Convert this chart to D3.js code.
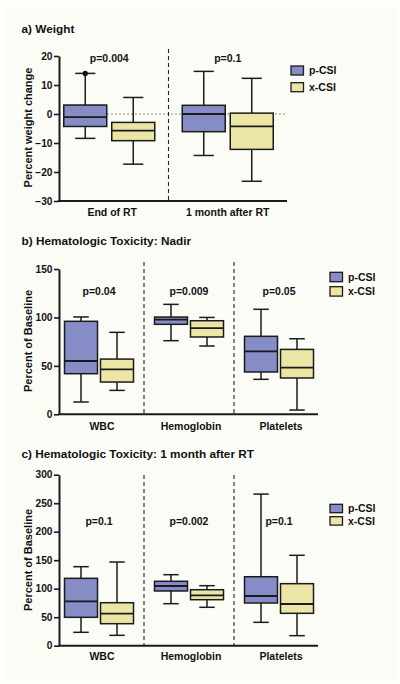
<!DOCTYPE html>
<html>
<head>
<meta charset="utf-8">
<script src="https://cdn.jsdelivr.net/npm/d3@7"></script>
<style>
  html, body { margin: 0; padding: 0; background: #ffffff; }
  svg { display: block; }
  text { font-family: "Liberation Sans", Arial, sans-serif; font-weight: bold; fill: #111; }
</style>
</head>
<body>
<svg id="chart" width="400" height="684"></svg>
<script>
// ---------------- DATA ----------------
const seriesNames = ["p-CSI", "x-CSI"];
const seriesColors = ["#868cc5", "#ebe6a5"];

// each box: [whisker min, Q1, median, Q3, whisker max]
const weightCategories = ["End of RT", "1 month after RT"];
const weightPCSI = [[-8.4, -4.3, -1.1, 3.1, 14.0], [-14.3, -6.1, 0.0, 3.0, 14.7]];
const weightXCSI = [[-17.3, -9.2, -5.7, -2.9, 5.7], [-23.2, -12.2, -4.3, 0.3, 12.3]];
const weightPOutliers = [[14.0], []];
const weightXOutliers = [[], []];
const weightPValues = ["p=0.004", "p=0.1"];
const weightTicks = [-30, -20, -10, 0, 10, 20];

const nadirCategories = ["WBC", "Hemoglobin", "Platelets"];
const nadirPCSI = [[12.7, 41.9, 55.0, 96.0, 100.5], [76.0, 92.9, 97.7, 100.4, 113.5], [36.1, 43.7, 65.0, 80.5, 108.4]];
const nadirXCSI = [[24.7, 33.3, 46.4, 57.0, 84.6], [70.5, 79.8, 89.0, 96.6, 100.0], [4.4, 37.5, 48.1, 67.0, 78.0]];
const nadirPValues = ["p=0.04", "p=0.009", "p=0.05"];
const nadirTicks = [0, 50, 100, 150];

const monthCategories = ["WBC", "Hemoglobin", "Platelets"];
const monthPCSI = [[23.5, 49.8, 77.9, 118.2, 138.6], [73.7, 96.0, 104.7, 113.0, 124.6], [41.0, 74.9, 87.2, 121.0, 266.0]];
const monthXCSI = [[18.2, 38.6, 56.1, 75.4, 146.8], [67.4, 80.7, 88.4, 98.2, 105.3], [17.6, 56.8, 73.2, 108.8, 158.6]];
const monthPValues = ["p=0.1", "p=0.002", "p=0.1"];
const monthTicks = [0, 50, 100, 150, 200, 250, 300];

// ---------------- DRAW ----------------
const svg = d3.select("#chart");
svg.append("rect").attr("x", 5).attr("y", 7).attr("width", 392).attr("height", 674).attr("fill", "#fcfcf7");

function drawPanel(cfg) {
  const g = svg.append("g");
  const y = d3.scaleLinear().domain(cfg.domain).range(cfg.yRange);
  const x = d3.scaleBand().domain(cfg.categories).range(cfg.groupRange);
  const s = d3.scaleOrdinal().domain(seriesNames).range([-cfg.offset, cfg.offset]);

  // title
  g.append("text").attr("x", 21.5).attr("y", cfg.titleY).attr("font-size", 11.8).text(cfg.title);

  // zero reference line
  if (cfg.zeroLine) {
    g.append("line").attr("x1", cfg.axisX0).attr("x2", cfg.axisX1)
      .attr("y1", y(0)).attr("y2", y(0))
      .attr("stroke", "#8a8a8a").attr("stroke-width", 1).attr("stroke-dasharray", "2,2");
  }

  // dividers
  cfg.categories.slice(1).forEach(c => {
    g.append("line").attr("x1", x(c)).attr("x2", x(c))
      .attr("y1", cfg.dividerTop).attr("y2", cfg.yRange[0])
      .attr("stroke", "#222").attr("stroke-width", 1.1).attr("stroke-dasharray", "4,3");
  });

  // boxes
  const seriesData = [cfg.pData, cfg.xData];
  const outliers = [cfg.pOut || [], cfg.xOut || []];
  seriesData.forEach((data, si) => {
    data.forEach((d, ci) => {
      const cx = x(cfg.categories[ci]) + x.bandwidth() / 2 + s(seriesNames[si]);
      const bw = cfg.boxW, cap = cfg.boxW * 0.47;
      const sg = g.append("g").attr("stroke", "#1b1b1b").attr("stroke-width", 1.5);
      sg.append("line").attr("x1", cx).attr("x2", cx).attr("y1", y(d[0])).attr("y2", y(d[1]));
      sg.append("line").attr("x1", cx).attr("x2", cx).attr("y1", y(d[3])).attr("y2", y(d[4]));
      sg.append("line").attr("x1", cx - cap / 2).attr("x2", cx + cap / 2).attr("y1", y(d[0])).attr("y2", y(d[0]));
      sg.append("line").attr("x1", cx - cap / 2).attr("x2", cx + cap / 2).attr("y1", y(d[4])).attr("y2", y(d[4]));
      sg.append("rect").attr("x", cx - bw / 2).attr("y", y(d[3])).attr("width", bw)
        .attr("height", y(d[1]) - y(d[3])).attr("fill", seriesColors[si]);
      sg.append("line").attr("x1", cx - bw / 2).attr("x2", cx + bw / 2).attr("y1", y(d[2])).attr("y2", y(d[2]))
        .attr("stroke-width", 1.8);
      (outliers[si][ci] || []).forEach(v => {
        g.append("circle").attr("cx", cx).attr("cy", y(v)).attr("r", 2.6).attr("fill", "#111");
      });
    });
  });

  // p-values
  cfg.categories.forEach((c, i) => {
    g.append("text").attr("x", x(c) + x.bandwidth() / 2).attr("y", cfg.pvalY)
      .attr("text-anchor", "middle").attr("font-size", 10.5).text(cfg.pValues[i]);
  });

  // y axis
  const axis = d3.axisLeft(y).tickValues(cfg.ticks).tickSize(5).tickPadding(1.5).tickSizeOuter(0);
  const ag = g.append("g").attr("transform", `translate(${cfg.axisX0},0)`).call(axis);
  ag.select(".domain").attr("stroke", "#1b1b1b").attr("stroke-width", 2);
  ag.selectAll(".tick line").attr("stroke", "#1b1b1b").attr("stroke-width", 1.6);
  ag.selectAll(".tick text").attr("font-size", 10.2).attr("font-family", "Liberation Sans, Arial, sans-serif")
    .attr("font-weight", "bold").attr("fill", "#111");

  // x axis line
  g.append("line").attr("x1", cfg.axisX0 - 1).attr("x2", cfg.axisX1)
    .attr("y1", cfg.yRange[0]).attr("y2", cfg.yRange[0]).attr("stroke", "#1b1b1b").attr("stroke-width", 2);

  // category labels
  cfg.categories.forEach((c, i) => {
    g.append("text").attr("x", x(c) + x.bandwidth() / 2 + (cfg.catShift ? cfg.catShift[i] : 0)).attr("y", cfg.catY)
      .attr("text-anchor", "middle").attr("font-size", 10.5).text(c);
  });

  // y title
  g.append("text").attr("transform", `translate(${cfg.yTitleX},${cfg.yTitleY}) rotate(-90)`)
    .attr("text-anchor", "middle").attr("dy", "0.35em").attr("font-size", 11).text(cfg.yTitle);

  // legend
  seriesNames.forEach((n, i) => {
    const ly = cfg.legendY + i * cfg.legendGap;
    g.append("rect").attr("x", cfg.legendX).attr("y", ly).attr("width", 12.5).attr("height", cfg.legendH)
      .attr("fill", seriesColors[i]).attr("stroke", "#1b1b1b").attr("stroke-width", 1.3);
    g.append("text").attr("x", cfg.legendX + 18).attr("y", ly + cfg.legendH / 2).attr("dy", "0.36em")
      .attr("font-size", 10.5).text(n);
  });
}

drawPanel({
  title: "a) Weight", titleY: 33.3,
  categories: weightCategories, pData: weightPCSI, xData: weightXCSI,
  pOut: weightPOutliers, xOut: weightXOutliers, pValues: weightPValues, ticks: weightTicks,
  domain: [-30, 20], yRange: [201, 56], axisX0: 59, axisX1: 287,
  groupRange: [50, 287], offset: 24, boxW: 43, dividerTop: 49, zeroLine: true,
  pvalY: 61.5, catY: 216, catShift: [3, 0],
  yTitle: "Percent weight change", yTitleX: 28.3, yTitleY: 127.5,
  legendX: 291, legendY: 66, legendGap: 16.7, legendH: 9
});

drawPanel({
  title: "b) Hematologic Toxicity: Nadir", titleY: 244.5,
  categories: nadirCategories, pData: nadirPCSI, xData: nadirXCSI,
  pValues: nadirPValues, ticks: nadirTicks,
  domain: [0, 150], yRange: [414.3, 269], axisX0: 59, axisX1: 318,
  groupRange: [54, 324], offset: 18, boxW: 33, dividerTop: 262,
  pvalY: 295, catY: 430, catShift: [3, 2, 2],
  yTitle: "Percent of Baseline", yTitleX: 28.3, yTitleY: 341,
  legendX: 330, legendY: 272.3, legendGap: 14.4, legendH: 9.4
});

drawPanel({
  title: "c) Hematologic Toxicity: 1 month after RT", titleY: 457.5,
  categories: monthCategories, pData: monthPCSI, xData: monthXCSI,
  pValues: monthPValues, ticks: monthTicks,
  domain: [0, 300], yRange: [645.7, 474.7], axisX0: 59, axisX1: 318,
  groupRange: [54, 324], offset: 18, boxW: 33, dividerTop: 475,
  pvalY: 525, catY: 660, catShift: [3, 2, 2],
  yTitle: "Percent of Baseline", yTitleX: 28.3, yTitleY: 560,
  legendX: 330, legendY: 504.3, legendGap: 12.4, legendH: 8.4
});
</script>
</body>
</html>
